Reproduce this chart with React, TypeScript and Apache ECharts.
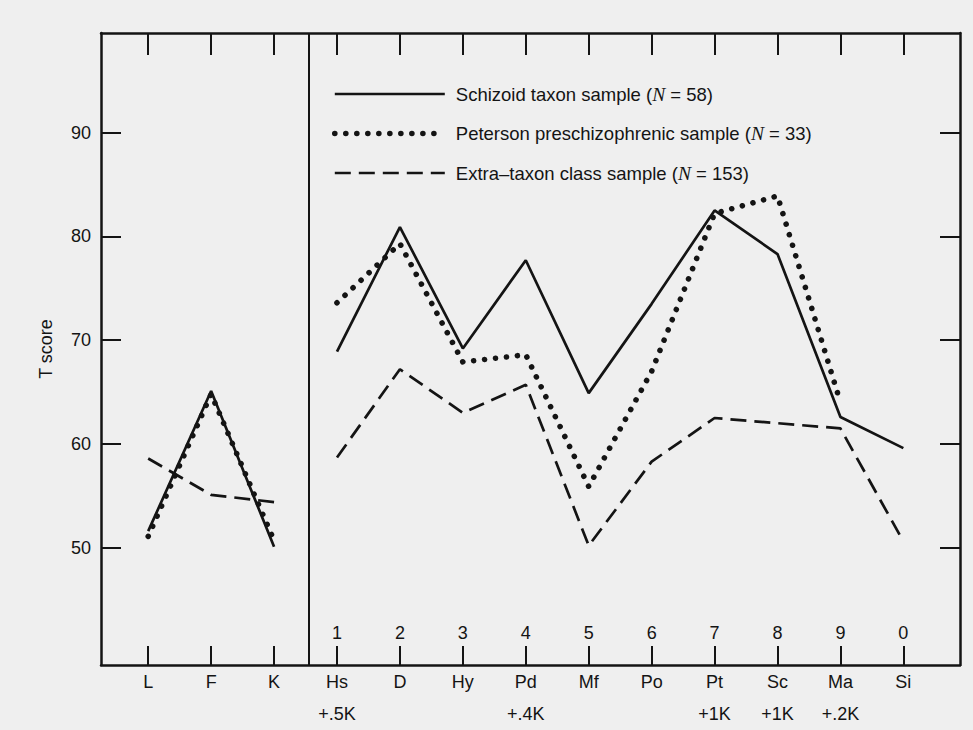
import React, { useEffect, useRef } from 'react';
import * as echarts from 'echarts';

// ---- data ----
const SCALES = ['L', 'F', 'K', 'Hs', 'D', 'Hy', 'Pd', 'Mf', 'Po', 'Pt', 'Sc', 'Ma', 'Si'];
const SCALE_NUMBERS = ['', '', '', '1', '2', '3', '4', '5', '6', '7', '8', '9', '0'];
const K_CORRECTIONS = ['', '', '', '+.5K', '', '', '+.4K', '', '', '+1K', '+1K', '+.2K', ''];
const Y_TICKS = [50, 60, 70, 80, 90];
const VALIDITY_COUNT = 3; // L, F, K are drawn apart from the clinical scales

const SCHIZOID_NAME = 'Schizoid taxon sample (N = 58)';
const PETERSON_NAME = 'Peterson preschizophrenic sample (N = 33)';
const EXTRA_NAME = 'Extra–taxon class sample (N = 153)';

const SCHIZOID = [51.6, 65.1, 50.1, 68.9, 80.9, 69.2, 77.7, 64.9, 73.5, 82.5, 78.3, 62.6, 59.6];
const PETERSON = [51.1, 64.8, 50.7, 73.6, 79.3, 67.9, 68.6, 55.9, 67.0, 82.2, 83.9, 64.0, null];
const EXTRA = [58.6, 55.1, 54.4, 58.7, 67.2, 63.0, 65.7, 50.2, 58.3, 62.5, 62.0, 61.5, 50.6];

// ---- layout / style ----
const INK = '#141414';
const FONT = 'Liberation Sans, Arial, Helvetica, sans-serif';
const X_MIN = -0.75;
const X_MAX = 12.9;
const Y_MIN = 38.7;
const Y_MAX = 99.6;
const DIVIDER = 2.55;

const IDX = SCALES.map((_, i) => i);

function part(values: (number | null)[], from: number, to: number) {
  return values
    .map((v, i) => [i, v] as [number, number | null])
    .slice(from, to)
    .filter((p) => p[1] !== null);
}

const STYLES: Record<string, any> = {
  [SCHIZOID_NAME]: { color: INK, width: 2.7, type: 'solid' },
  [PETERSON_NAME]: { color: INK, width: 5.6, type: [0.01, 11], cap: 'round' },
  [EXTRA_NAME]: { color: INK, width: 2.7, type: [16, 8] },
};

export default function App() {
  const ref = useRef<HTMLDivElement>(null);
  useEffect(() => {
    if (!ref.current) return;
    document.body.style.margin = '0';
    const chart = echarts.init(ref.current, null, { renderer: 'svg' });

    const groups: [string, (number | null)[]][] = [
      [SCHIZOID_NAME, SCHIZOID],
      [PETERSON_NAME, PETERSON],
      [EXTRA_NAME, EXTRA],
    ];
    const series: any[] = [];
    groups.forEach(([name, values]) => {
      [part(values, 0, VALIDITY_COUNT), part(values, VALIDITY_COUNT, values.length)].forEach((d) => {
        series.push({
          name,
          type: 'line',
          xAxisIndex: 0,
          yAxisIndex: 0,
          data: d,
          symbol: 'none',
          lineStyle: STYLES[name],
          itemStyle: { color: INK },
          silent: true,
        });
      });
    });
    series[0].markLine = {
      silent: true,
      symbol: 'none',
      label: { show: false },
      lineStyle: { color: INK, width: 2, type: 'solid' },
      data: [{ xAxis: DIVIDER }],
    };

    const xCommon = {
      type: 'value',
      min: X_MIN,
      max: X_MAX,
      splitLine: { show: false },
    };
    const frameLine = { show: true, onZero: false, lineStyle: { color: INK, width: 2.5 } };
    const tickStyle = { color: INK, width: 2 };

    chart.setOption({
      animation: false,
      backgroundColor: '#efefef',
      grid: { left: 101, right: 13, top: 33, bottom: 57, containLabel: false },
      legend: {
        data: [SCHIZOID_NAME, PETERSON_NAME, EXTRA_NAME].map((name) => ({
          name,
          lineStyle: STYLES[name],
          itemStyle: { color: 'rgba(0,0,0,0)', borderWidth: 0, opacity: 0 },
        })),
        orient: 'vertical',
        left: 327,
        top: 78,
        itemWidth: 110,
        itemHeight: 14,
        itemGap: 17.5,
        selectedMode: false,
        itemStyle: { color: 'rgba(0,0,0,0)', borderWidth: 0, opacity: 0 },
        formatter: (name: string) => name.replace('(N', '({n|N}'),
        textStyle: {
          color: INK,
          fontFamily: FONT,
          fontSize: 18.5,
          lineHeight: 22,
          padding: [0, 0, 0, 6],
          rich: {
            n: { fontStyle: 'italic', fontFamily: 'Liberation Serif, serif', fontSize: 19.5, color: INK },
          },
        },
      },
      xAxis: [
        {
          ...xCommon,
          position: 'bottom',
          axisLine: frameLine,
          axisTick: { show: true, inside: true, length: 19, customValues: IDX, lineStyle: tickStyle },
          axisLabel: {
            customValues: IDX,
            margin: 1,
            color: INK,
            fontFamily: FONT,
            fontSize: 18,
            lineHeight: 32,
            formatter: (v: number) => {
              const i = Math.round(v);
              return SCALES[i] + (K_CORRECTIONS[i] ? '\n' + K_CORRECTIONS[i] : '');
            },
          },
        },
        {
          ...xCommon,
          position: 'bottom',
          axisLine: { show: false, onZero: false },
          axisTick: { show: false },
          axisLabel: {
            inside: true,
            customValues: IDX.filter((i) => SCALE_NUMBERS[i] !== ''),
            margin: 23,
            color: INK,
            fontFamily: FONT,
            fontSize: 18,
            lineHeight: 18,
            formatter: (v: number) => SCALE_NUMBERS[Math.round(v)],
          },
        },
        {
          ...xCommon,
          position: 'top',
          axisLine: frameLine,
          axisTick: { show: true, inside: true, length: 22, customValues: IDX, lineStyle: tickStyle },
          axisLabel: { show: false },
        },
      ],
      yAxis: [
        {
          type: 'value',
          position: 'left',
          min: Y_MIN,
          max: Y_MAX,
          name: 'T score',
          nameLocation: 'middle',
          nameRotate: 90,
          nameGap: 46,
          nameTextStyle: { color: INK, fontFamily: FONT, fontSize: 18 },
          splitLine: { show: false },
          axisLine: frameLine,
          axisTick: { show: true, inside: true, length: 20, customValues: Y_TICKS, lineStyle: tickStyle },
          axisLabel: { customValues: Y_TICKS, margin: 10, color: INK, fontFamily: FONT, fontSize: 18 },
        },
        {
          type: 'value',
          position: 'right',
          min: Y_MIN,
          max: Y_MAX,
          splitLine: { show: false },
          axisLine: frameLine,
          axisTick: { show: true, inside: true, length: 20, customValues: Y_TICKS, lineStyle: tickStyle },
          axisLabel: { show: false },
        },
      ],
      series,
    });
    return () => chart.dispose();
  }, []);
  return <div ref={ref} style={{ position: 'fixed', left: 0, top: 0, width: 973, height: 730 }} />;
}
